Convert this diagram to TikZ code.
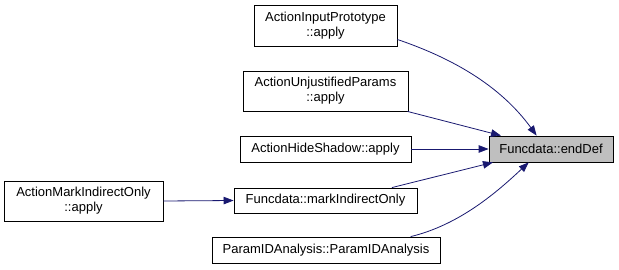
\documentclass[tikz,border=0pt]{standalone}
\usepackage{fontspec}
\setmainfont{Liberation Sans}
\usetikzlibrary{arrows.meta}
\definecolor{edgeblue}{HTML}{191970}
\definecolor{focusgrey}{HTML}{BFBFBF}
\begin{document}
\begin{tikzpicture}[x=1pt,y=-1pt,
  fn/.style={draw=black,line width=0.8pt,fill=white,rectangle,inner sep=0pt,
    align=center,font=\fontsize{13}{15}\selectfont},
  focus/.style={fn,fill=focusgrey},
  call/.style={draw=edgeblue,line width=0.8pt,
    -{Triangle[length=10pt,width=7.5pt,fill=edgeblue]}}]
\useasboundingbox (0,0) rectangle (619,270);
% callers and the documented function
\node[fn,minimum width=143pt,minimum height=41pt] (inp) at (325.5,25.5) {ActionInputPrototype\\::apply};
\node[fn,minimum width=165pt,minimum height=40pt] (unj) at (325.5,91) {ActionUnjustifiedParams\\::apply};
\node[fn,minimum width=171pt,minimum height=26pt] (hide) at (325.5,149) {ActionHideShadow::apply};
\node[focus,minimum width=124pt,minimum height=26pt] (end) at (551,149) {Funcdata::endDef};
\node[fn,minimum width=183pt,minimum height=25pt] (mark) at (325.5,200.5) {Funcdata::markIndirectOnly};
\node[fn,minimum width=228pt,minimum height=26pt] (pid) at (326,250) {ParamIDAnalysis::ParamIDAnalysis};
\node[fn,minimum width=159pt,minimum height=40pt] (ami) at (83.5,201) {ActionMarkIndirectOnly\\::apply};
% call edges
\draw[call] (inp.-11.5) .. controls +(53,18) and +(-37,-51) .. (end.137);
\draw[call] (unj.-14) -- (end.165);
\draw[call] (hide.east) -- (end.west);
\draw[call] (mark.11.5) -- (end.193);
\draw[call] (pid.9.3) .. controls +(50,-12) and +(-30,28) .. (end.211.8);
\draw[call] (ami.east) -- (mark.west);
\end{tikzpicture}
\end{document}
